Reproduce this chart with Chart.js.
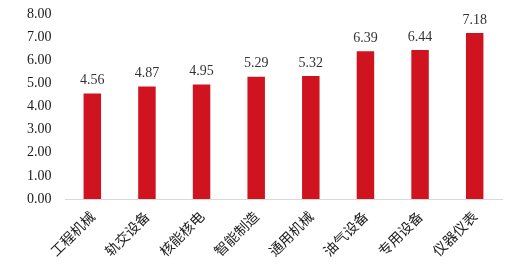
<!DOCTYPE html>
<html>
<head>
<meta charset="utf-8">
<script src="https://cdn.jsdelivr.net/npm/chart.js@4/dist/chart.umd.min.js"></script>
<style>
  html, body { margin: 0; padding: 0; background: #fff; }
  #wrap { width: 512px; height: 278px; }
</style>
</head>
<body>
<div id="wrap"><canvas id="barChart"></canvas></div>
<script>
const categories = ['工程机械', '轨交设备', '核能核电', '智能制造', '通用机械', '油气设备', '专用设备', '仪器仪表'];
const values = [4.56, 4.87, 4.95, 5.29, 5.32, 6.39, 6.44, 7.18];
const yTicks = [0, 1, 2, 3, 4, 5, 6, 7, 8];

// value labels above bars
const valueLabels = {
  id: 'valueLabels',
  afterDatasetsDraw(chart) {
    const ctx = chart.ctx;
    const meta = chart.getDatasetMeta(0);
    ctx.save();
    ctx.font = '14px "Liberation Serif", "Times New Roman", serif';
    ctx.fillStyle = '#333';
    ctx.textAlign = 'center';
    ctx.textBaseline = 'bottom';
    meta.data.forEach((bar, i) => {
      ctx.fillText(values[i].toFixed(2), bar.x, bar.y - 6);
    });
    ctx.restore();
  }
};

const ctx1 = document.getElementById('barChart');

new Chart(ctx1, {
  type: 'bar',
  data: {
    labels: categories,
    datasets: [{
      data: values,
      backgroundColor: '#cf1420',
      categoryPercentage: 1,
      barPercentage: 0.32
    }]
  },
  options: {
    responsive: true,
    maintainAspectRatio: false,
    animation: false,
    layout: { padding: { top: 14, right: 10, left: 27, bottom: 0 } },
    plugins: {
      legend: { display: false },
      tooltip: { enabled: false }
    },
    scales: {
      x: {
        grid: { display: false, drawTicks: false },
        border: { display: true, color: '#d9d9d9', width: 1 },
        ticks: {
          minRotation: 45,
          maxRotation: 45,
          padding: 9,
          color: '#1a1a1a',
          font: { family: '"Noto Sans CJK SC"', size: 14 }
        },
        afterFit(scale) { scale.height = 79; }
      },
      y: {
        min: 0,
        max: 8,
        grid: { display: false, drawTicks: false },
        border: { display: false },
        afterBuildTicks(scale) { scale.ticks = yTicks.map(v => ({ value: v })); },
        ticks: {
          padding: 0,
          crossAlign: 'far',
          color: '#1a1a1a',
          font: { family: '"Liberation Serif", serif', size: 14 },
          callback: v => Number(v).toFixed(2)
        },
        afterFit(scale) { scale.width = 38; }
      }
    }
  },
  plugins: [valueLabels]
});
</script>
</body>
</html>
